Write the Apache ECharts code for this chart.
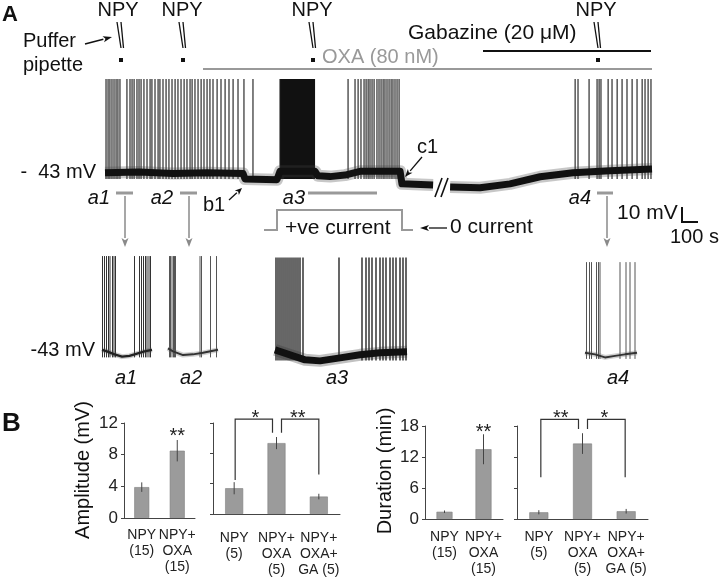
<!DOCTYPE html>
<html><head><meta charset="utf-8">
<script src="https://cdn.jsdelivr.net/npm/echarts@6/dist/echarts.min.js"></script>
<style>html,body{margin:0;padding:0;background:#fff}#c{width:720px;height:578px}</style>
</head><body><div id="c"></div>
<script>
// ---------------- DATA ----------------
// Panel A main trace: time (s), membrane potential (mV)
const mainSpikeTimes = [6,18,29,41,53,65,76,88,129,
  147,159,171,188,200,212,229,247,265,276,294,312,323,341,359,376,394,412,429,447,465,482,
  500,512,529,547,565,582,600,617,635,659,682,706,729,753,782,817,870,1029,1429,
  1470,1488,1505,1523,1535,1547,1558,1570,1582,1599,1611,1623,1635,1646,1658,1670,1682,1693,1705,1717,1729,
  2764,2781,2846,2893,2905,2916,2958,2981,3011,3040,3069,3099,3128,3158,3175,3193,3210];
const mainBurst = [[1029, 1235]];
const mainBaseline = [[0,-43],[200,-42.5],[400,-43.5],[600,-43],[812,-43.5],[823,-47],[1011,-47.5],[1029,-42],
  [1235,-42],[1252,-45],[1323,-45.5],[1411,-44.5],[1499,-42],[1735,-42],[1746,-50.3],[1929,-51],[1980,'-'],
  [2029,-52.3],[2205,-52.9],[2381,-50.3],[2558,-45.6],[2752,-43],[2969,-41.7],[3216,-40.4]];
const mainSpikeRange = [-47, 19];

// Insets a1-a4: time (s), mV
const a1Spikes = [1,5,9,13,16,21,24,27,65,75,79,83,87,90,94,97];
const a1Baseline = [[0,-43],[10,-44],[25,-46],[40,-47.5],[55,-47],[70,-45.5],[85,-44],[100,-43]];
const a2Spikes = [3,5,8,11,13,15,64,67,85,97];
const a2Baseline = [[0,-42],[10,-44],[30,-46.5],[50,-46],[70,-45],[85,-44],[100,-43]];
const a3Spikes = [3,9,15,21,27,33,39,45,51,57,63,69,75,84,192,261,273,282,291,303,315,324,333,345,354,363,375,384,393];
const a3Baseline = [[0,-43],[45,-46.3],[90,-49.6],[135,-50.3],[195,-48.3],[255,-46.3],[315,-45],[396,-44.3]];
const a4Spikes = [3,9,13,23,27,30,70,82,90,100];
const a4Baseline = [[0,-45],[20,-46],[40,-48],[60,-47],[80,-46],[104,-45]];
const insetPeaks = [19, 19, 18, 15];

// Panel B
const ampCats1 = ['NPY\n(15)', 'NPY+\nOXA\n(15)'];
const ampVals1 = [3.9, 8.5];
const ampErr1 = [0.6, 1.35];
const ampCats2 = ['NPY\n(5)', 'NPY+\nOXA\n(5)', 'NPY+\nOXA+\nGA (5)'];
const ampVals2 = [3.4, 9.35, 2.3];
const ampErr2 = [0.8, 0.8, 0.37];
const durCats1 = ['NPY\n(15)', 'NPY+\nOXA\n(15)'];
const durVals1 = [1.4, 13.5];
const durErr1 = [0.25, 2.9];
const durCats2 = ['NPY\n(5)', 'NPY+\nOXA\n(5)', 'NPY+\nOXA+\nGA (5)'];
const durVals2 = [1.3, 14.6, 1.5];
const durErr2 = [0.4, 2.0, 0.45];
const ampTicks = [0, 12, 4];
const durTicks = [0, 18, 6];

// ---------------- CHART ----------------
const FONT = '"Liberation Sans", Arial, Helvetica, sans-serif';
const chart = echarts.init(document.getElementById('c'), null, {renderer: 'canvas'});

const grids = [
  {left:105, top:70, width:547, height:124},   // 0 main trace
  {left:102, top:247, width:50, height:124},   // 1 a1
  {left:168, top:247, width:50, height:124},   // 2 a2
  {left:275, top:247, width:132, height:124},  // 3 a3
  {left:585, top:247, width:52, height:124},   // 4 a4
  {left:124, top:423, width:71, height:95},    // 5 amp1
  {left:213, top:423, width:127, height:95},   // 6 amp2
  {left:425, top:426, width:78, height:93},    // 7 dur1
  {left:517, top:426, width:131, height:93}    // 8 dur2
];
const traceX = [[0,3216],[0,100],[0,100],[0,396],[0,104]];
const xAxes = [], yAxes = [];
traceX.forEach((r, i) => {
  xAxes.push({type:'value', gridIndex:i, min:r[0], max:r[1], show:false});
  yAxes.push({type:'value', gridIndex:i, min:-57, max:25, show:false});
});
const barCats = [ampCats1, ampCats2, durCats1, durCats2];
const labMargins = [9, 16, 10, 10];
barCats.forEach((c, k) => {
  const gi = 5 + k;
  const t = k < 2 ? ampTicks : durTicks;
  xAxes.push({type:'category', gridIndex:gi, data:c,
    axisLine:{show:true, lineStyle:{color:'#444', width:1}}, axisTick:{show:false},
    axisLabel:{interval:0, fontSize:14, lineHeight:16, color:'#222', fontFamily:FONT, margin:labMargins[k]}});
  yAxes.push({type:'value', gridIndex:gi, min:t[0], max:t[1], interval:t[2],
    axisLine:{show:true, lineStyle:{color:'#444', width:1}},
    axisTick:{show:true, length:3, lineStyle:{color:'#444'}}, splitLine:{show:false},
    axisLabel:{show:(k % 2 === 0), fontSize:17, color:'#222', fontFamily:FONT, margin:6}});
});

function spikeSeries(gi, times, lo, hi, color, lw) {
  return {type:'custom', xAxisIndex:gi, yAxisIndex:gi, silent:true, z:2,
    data: times.map(t => [t, lo, hi]), encode:{x:0, y:[1,2]},
    renderItem: (p, api) => {
      const a = api.coord([api.value(0), api.value(1)]);
      const b = api.coord([api.value(0), api.value(2)]);
      return {type:'line', shape:{x1:a[0], y1:a[1], x2:b[0], y2:b[1]}, style:{stroke:color, lineWidth:lw}};
    }};
}
function burstSeries(gi, blocks, lo, hi) {
  return {type:'custom', xAxisIndex:gi, yAxisIndex:gi, silent:true, z:2,
    data: blocks.map(b => [b[0], b[1], lo, hi]), encode:{x:[0,1], y:[2,3]},
    renderItem: (p, api) => {
      const a = api.coord([api.value(0), api.value(3)]);
      const b = api.coord([api.value(1), api.value(2)]);
      return {type:'rect', shape:{x:a[0], y:a[1], width:b[0]-a[0], height:b[1]-a[1]}, style:{fill:'#111'}};
    }};
}
function baseSeries(gi, data, lw, color, opacity, z) {
  return {type:'line', xAxisIndex:gi, yAxisIndex:gi, data:data, showSymbol:false, silent:true, z:z || 3,
    connectNulls:false, lineStyle:{color:color, width:lw, join:'round', opacity:opacity == null ? 1 : opacity}};
}
function barSeries(gi, vals, bw) {
  return {type:'bar', xAxisIndex:gi, yAxisIndex:gi, data:vals, barWidth:bw, silent:true,
    itemStyle:{color:'#9b9b9b', borderColor:'#808080', borderWidth:0.6}};
}
function errSeries(gi, vals, errs) {
  return {type:'custom', xAxisIndex:gi, yAxisIndex:gi, silent:true, z:5,
    data: vals.map((v, i) => [i, v - errs[i], v + errs[i]]), encode:{x:0, y:[1,2]},
    renderItem: (p, api) => {
      const a = api.coord([api.value(0), api.value(1)]);
      const b = api.coord([api.value(0), api.value(2)]);
      return {type:'line', shape:{x1:a[0], y1:a[1], x2:b[0], y2:b[1]}, style:{stroke:'#444', lineWidth:1}};
    }};
}
// brackets: [catLeft, catRight, yLeft, yTop, yRight, dxLeft, dxRight]
function bracketSeries(gi, items) {
  return {type:'custom', xAxisIndex:gi, yAxisIndex:gi, silent:true, z:5, clip:false,
    data: items.map(b => b.slice(0,5)), encode:{x:[0,1], y:[2,3,4]},
    renderItem: (p, api) => {
      const it = items[p.dataIndex];
      const l = api.coord([it[0], it[2]]), t1 = api.coord([it[0], it[3]]);
      const r = api.coord([it[1], it[4]]);
      const xl = l[0] + it[5], xr = r[0] + it[6];
      return {type:'polyline', shape:{points:[[xl, l[1]], [xl, t1[1]], [xr, t1[1]], [xr, r[1]]]},
        style:{stroke:'#333', lineWidth:1.2, fill:null}};
    }};
}
// stars: [catA, catB, value, text]
function starSeries(gi, items) {
  return {type:'custom', xAxisIndex:gi, yAxisIndex:gi, silent:true, z:6, clip:false,
    data: items.map(s => [s[0], s[1], s[2]]), encode:{x:[0,1], y:2},
    renderItem: (p, api) => {
      const s = items[p.dataIndex];
      const a = api.coord([s[0], s[2]]), b = api.coord([s[1], s[2]]);
      return {type:'text', style:{x:(a[0] + b[0]) / 2, y:a[1] + 5, text:s[3], fontSize:20, fontFamily:FONT,
        fill:'#222', align:'center', verticalAlign:'middle'}};
    }};
}

const series = [
  burstSeries(0, mainBurst, mainSpikeRange[0], mainSpikeRange[1]),
  spikeSeries(0, mainSpikeTimes, mainSpikeRange[0], mainSpikeRange[1], '#1a1a1a', 1.1),
  baseSeries(0, mainBaseline, 12, '#444', 0.3, 3),
  baseSeries(0, mainBaseline, 7, '#111', 1, 4),
  spikeSeries(1, a1Spikes, -48, insetPeaks[0], '#333', 1),
  baseSeries(1, a1Baseline, 5, '#555', 0.3, 3),
  baseSeries(1, a1Baseline, 2.4, '#222', 1, 4),
  spikeSeries(2, a2Spikes, -48, insetPeaks[1], '#555', 1),
  baseSeries(2, a2Baseline, 5, '#666', 0.3, 3),
  baseSeries(2, a2Baseline, 2, '#333', 1, 4),
  spikeSeries(3, a3Spikes, -50, insetPeaks[2], '#000', 1.2),
  baseSeries(3, a3Baseline, 12, '#333', 0.3, 3),
  baseSeries(3, a3Baseline, 7, '#111', 1, 4),
  spikeSeries(4, a4Spikes, -49, insetPeaks[3], '#555', 1),
  baseSeries(4, a4Baseline, 5, '#666', 0.3, 3),
  baseSeries(4, a4Baseline, 2, '#333', 1, 4),
  barSeries(5, ampVals1, 15), errSeries(5, ampVals1, ampErr1),
  starSeries(5, [[1, 1, 10.9, '**']]),
  barSeries(6, ampVals2, 18), errSeries(6, ampVals2, ampErr2),
  bracketSeries(6, [[0, 1, 4.5, 12.5, 10.7, 1, -4], [1, 2, 10.7, 12.5, 5.2, 5, 0]]),
  starSeries(6, [[0, 1, 13.3, '*'], [1, 2, 13.3, '**']]),
  barSeries(7, durVals1, 16), errSeries(7, durVals1, durErr1),
  starSeries(7, [[1, 1, 17.8, '**']]),
  barSeries(8, durVals2, 19), errSeries(8, durVals2, durErr2),
  bracketSeries(8, [[0, 1, 8.1, 19.3, 17.4, 2, -4], [1, 2, 17.4, 19.3, 8.1, 5, -1]]),
  starSeries(8, [[0, 1, 20.5, '**'], [1, 2, 20.5, '*']])
];

// ---------------- ANNOTATIONS ----------------
const G = [];
function txt(x, y, s, o) {
  o = o || {};
  G.push({type:'text', z:10, rotation:o.rot || 0, x:x, y:y, style:{text:s, fontSize:o.size || 20,
    fontFamily:FONT, fontWeight:o.weight || 'normal', fontStyle:o.style || 'normal',
    fill:o.color || '#111', align:o.align || 'left', verticalAlign:'middle'}});
}
function ln(pts, color, w) {
  G.push({type:'polyline', z:10, shape:{points:pts}, style:{stroke:color, lineWidth:w, fill:null}});
}
function arrow(x1, y1, x2, y2, color, w, hl, hw) {
  const dx = x2 - x1, dy = y2 - y1, L = Math.hypot(dx, dy), ux = dx / L, uy = dy / L;
  const bx = x2 - ux * hl, by = y2 - uy * hl;
  ln([[x1, y1], [bx, by]], color, w);
  G.push({type:'polygon', z:10, shape:{points:[[x2, y2], [bx - uy * hw, by + ux * hw], [bx + ux * hl * 0.25, by + uy * hl * 0.25], [bx + uy * hw, by - ux * hw]]},
    style:{fill:color}});
}
txt(2, 15, 'A', {size:22, weight:'bold'});
txt(2, 424, 'B', {size:26, weight:'bold'});
[[118, 121], [182, 183], [312, 313], [596, 598]].forEach(p => {
  txt(p[0], 10, 'NPY', {align:'center'});
  ln([[p[1] - 4, 22], [p[1], 48]], '#111', 1.3);
  ln([[p[1], 22], [p[1] + 2.5, 48]], '#111', 1.3);
  G.push({type:'rect', z:10, shape:{x:p[1] - 2, y:58, width:4, height:4}, style:{fill:'#111'}});
});
txt(23, 41, 'Puffer');
txt(23, 65, 'pipette');
arrow(85, 44, 112, 37, '#111', 1.5, 9, 3);
ln([[203, 69], [652, 69]], '#999', 2);
txt(322, 57, 'OXA (80 nM)', {color:'#999', size:20});
ln([[483, 51], [651, 51]], '#111', 2);
txt(408, 33, 'Gabazine (20 \u03bcM)', {size:21});
txt(96, 172, '-  43 mV', {align:'right'});
txt(417, 147, 'c1');
arrow(422, 157, 405, 177, '#111', 1.3, 8, 3);
ln([[435, 197], [442, 178]], '#111', 1.6);
ln([[441, 197], [448, 178]], '#111', 1.6);
// a-labels, bars, arrows
txt(110, 198, 'a1', {align:'right', style:'italic'});
ln([[116, 193], [133, 193]], '#999', 3);
arrow(125, 196, 125, 247, '#8a8a8a', 1.5, 9, 3.5);
txt(173, 198, 'a2', {align:'right', style:'italic'});
ln([[180, 193], [197, 193]], '#999', 3);
arrow(189, 196, 189, 247, '#8a8a8a', 1.5, 9, 3.5);
txt(203, 205, 'b1');
arrow(229, 200, 242, 188, '#111', 1.3, 7, 3);
txt(305, 198, 'a3', {align:'right', style:'italic'});
ln([[308, 193], [377, 193]], '#999', 3);
txt(591, 198, 'a4', {align:'right', style:'italic'});
ln([[597, 193], [613, 193]], '#999', 3);
arrow(607, 196, 607, 247, '#8a8a8a', 1.5, 9, 3.5);
// current step
ln([[264, 230], [277, 230], [277, 210], [402, 210], [402, 230], [413, 230]], '#999', 2);
txt(285, 228, '+ve current', {size:21});
arrow(447, 228, 420, 228, '#111', 1.3, 9, 3);
txt(450, 227, '0 current', {size:21});
// scale bar
ln([[682, 207], [682, 222], [698, 222]], '#111', 2);
txt(617, 213, '10 mV', {size:21});
txt(670, 237, '100 s', {size:20});
// insets
txt(95, 350, '-43 mV', {align:'right'});
txt(126, 378, 'a1', {align:'center', style:'italic'});
txt(191, 378, 'a2', {align:'center', style:'italic'});
txt(337, 378, 'a3', {align:'center', style:'italic'});
txt(618, 378, 'a4', {align:'center', style:'italic'});
// panel B axis titles
txt(83, 470, 'Amplitude (mV)', {align:'center', rot:Math.PI / 2});
txt(385, 471, 'Duration (min)', {align:'center', rot:Math.PI / 2});

chart.setOption({
  animation:false, backgroundColor:'#fff',
  grid:grids, xAxis:xAxes, yAxis:yAxes, series:series, graphic:G
});
</script></body></html>
